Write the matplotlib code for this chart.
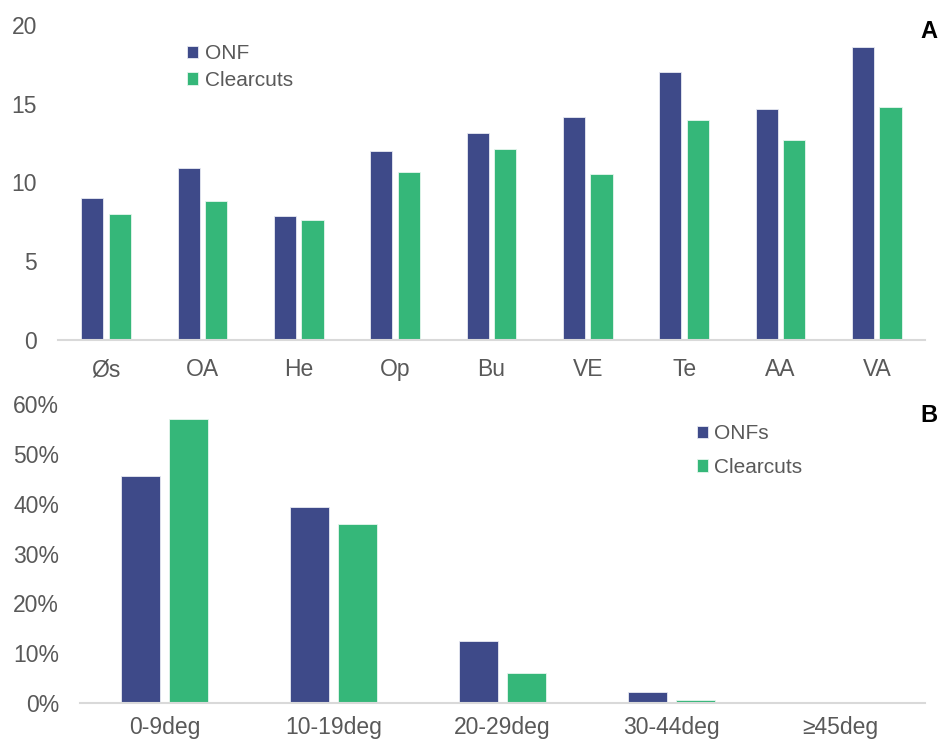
import matplotlib.pyplot as plt
import numpy as np

plt.rcParams['font.family'] = ['Liberation Sans', 'DejaVu Sans']

# Panel A: values per site
sites = ['Øs', 'OA', 'He', 'Op', 'Bu', 'VE', 'Te', 'AA', 'VA']
onf_a = [9.0, 10.9, 7.9, 12.0, 13.15, 14.15, 17.0, 14.65, 18.6]
clearcut_a = [8.0, 8.8, 7.6, 10.65, 12.1, 10.55, 13.95, 12.7, 14.8]

# Panel B: share of area per slope class
slopes = ['0-9deg', '10-19deg', '20-29deg', '30-44deg', '≥45deg']
onf_b = [0.456, 0.394, 0.124, 0.023, 0.0]
clearcut_b = [0.570, 0.359, 0.061, 0.007, 0.0]

NAVY = '#3E4A89'
GREEN = '#35B779'
GREY_TXT = '#595959'
AXIS_LINE = '#D9D9D9'


def style_axes(ax, xpad=13):
    for side in ['top', 'right', 'left']:
        ax.spines[side].set_visible(False)
    ax.spines['bottom'].set_color(AXIS_LINE)
    ax.spines['bottom'].set_linewidth(1.5)
    ax.tick_params(axis='both', length=0, colors=GREY_TXT, labelsize=16.5)
    ax.tick_params(axis='y', pad=15)
    ax.tick_params(axis='x', pad=xpad)


def grouped_bars(ax, labels, a, b, name_a, name_b):
    x = np.arange(len(labels))
    w = 0.23
    ax.bar(x - 0.143, a, w, color=NAVY, edgecolor='#E8EAF2', linewidth=0.6, label=name_a)
    ax.bar(x + 0.143, b, w, color=GREEN, edgecolor='#E6F6EE', linewidth=0.6, label=name_b)
    ax.set_xticks(x)
    ax.set_xticklabels(labels)
    ax.set_xlim(-0.5, len(labels) - 0.5)


fig = plt.figure(figsize=(9.38, 7.42), dpi=100)

ax1 = fig.add_axes([0.0618, 0.5418, 0.9243, 0.4245])
grouped_bars(ax1, sites, onf_a, clearcut_a, 'ONF', 'Clearcuts')
ax1.set_ylim(0, 20)
ax1.set_yticks([0, 5, 10, 15, 20])
style_axes(ax1)
ax1.legend(loc='upper left', bbox_to_anchor=(0.139, 0.965), frameon=False,
           fontsize=15, handlelength=0.55, handleheight=0.55, handletextpad=0.3,
           labelspacing=0.35, labelcolor=GREY_TXT, borderaxespad=0)

ax2 = fig.add_axes([0.0853, 0.0522, 0.9009, 0.4034])
grouped_bars(ax2, slopes, onf_b, clearcut_b, 'ONFs', 'Clearcuts')
ax2.set_ylim(0, 0.6)
ax2.set_yticks(np.arange(0, 0.61, 0.1))
ax2.set_yticklabels([f'{int(round(t * 100))}%' for t in np.arange(0, 0.61, 0.1)])
style_axes(ax2, xpad=9)
ax2.legend(loc='upper left', bbox_to_anchor=(0.72, 0.96), frameon=False,
           fontsize=15, handlelength=0.55, handleheight=0.55, handletextpad=0.3,
           labelspacing=0.7, labelcolor=GREY_TXT, borderaxespad=0)

# panel letters
fig.text(0.9995, 0.957, 'A', ha='right', va='center', fontsize=17, fontweight='bold')
fig.text(0.9995, 0.44, 'B', ha='right', va='center', fontsize=17, fontweight='bold')

fig.savefig('out.png', dpi=100)
